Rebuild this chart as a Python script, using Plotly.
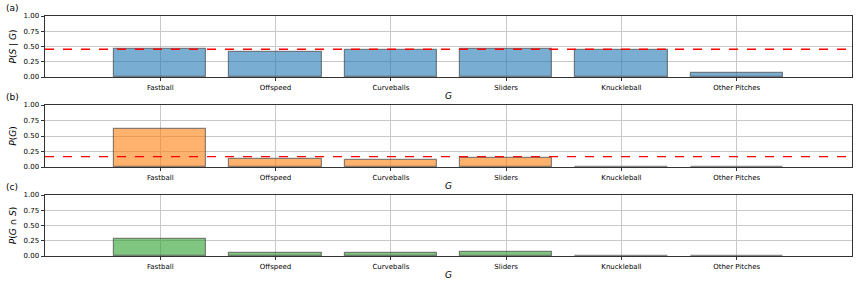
import plotly.graph_objects as go
from plotly.subplots import make_subplots

categories = ["Fastball", "Offspeed", "Curveballs", "Sliders", "Knuckleball", "Other Pitches"]
p_s_given_g = [0.46, 0.415, 0.45, 0.465, 0.445, 0.06]
p_g = [0.608, 0.13, 0.108, 0.145, 0.004, 0.005]
p_g_and_s = [0.28, 0.054, 0.049, 0.067, 0.002, 0.003]
p_s_overall = 0.455
p_g_uniform = 1 / 6
y_ticks = [0, 0.25, 0.5, 0.75, 1.0]
y_titles = ["<i>P</i>(<i>S</i> | <i>G</i>)", "<i>P</i>(<i>G</i>)", "<i>P</i>(<i>G</i> ∩ <i>S</i>)"]
panel_labels = ["(a)", "(b)", "(c)"]

W, H = 857, 285
fig = make_subplots(rows=3, cols=1)

fills = ["rgba(31,119,180,0.6)", "rgba(255,127,14,0.6)", "rgba(44,160,44,0.6)"]
series = [p_s_given_g, p_g, p_g_and_s]
for i, (vals, col) in enumerate(zip(series, fills)):
    fig.add_trace(go.Bar(x=categories, y=vals, width=0.8,
                         marker=dict(color=col, line=dict(color="rgba(60,60,60,0.6)", width=1.2)),
                         showlegend=False, hoverinfo="skip"), row=i + 1, col=1)

# reference lines
for i, val in [(0, p_s_overall), (1, p_g_uniform)]:
    xref = "x" if i == 0 else f"x{i+1}"
    yref = "y" if i == 0 else f"y{i+1}"
    fig.add_shape(type="line", xref=f"{xref} domain", yref=yref, x0=0, x1=1, y0=val, y1=val,
                  line=dict(color="#ff0000", width=1.4, dash="dash"))

pix = [(16, 77), (105, 167), (195, 256)]
xd = [45 / W, 852 / W]
font = dict(family="DejaVu Sans", size=7, color="black")
tfont = dict(family="DejaVu Sans", size=9, color="black")
for i, (top, bot) in enumerate(pix):
    xa = "xaxis" if i == 0 else f"xaxis{i+1}"
    ya = "yaxis" if i == 0 else f"yaxis{i+1}"
    fig.layout[xa].update(domain=xd, range=[-1, 6], type="category", automargin=False,
                          categoryorder="array", categoryarray=categories,
                          showgrid=True, gridcolor="#c8c8c8", gridwidth=0.8,
                          showline=True, linecolor="#333333", linewidth=0.9, mirror=True,
                          ticks="outside", ticklen=3.5, tickcolor="#333333", tickwidth=0.8,
                          tickfont=font,
                          title=dict(text="<i>G</i>", font=tfont, standoff=1))
    fig.layout[ya].update(domain=[1 - bot / H, 1 - top / H], range=[0, 1], automargin=False,
                          tickvals=y_ticks, tickformat=".2f",
                          showgrid=True, gridcolor="#c8c8c8", gridwidth=0.8, zeroline=False,
                          showline=True, linecolor="#333333", linewidth=0.9, mirror=True,
                          ticks="outside", ticklen=3.5, tickcolor="#333333", tickwidth=0.8,
                          tickfont=font,
                          title=dict(text=y_titles[i], font=tfont, standoff=5))
    fig.add_annotation(text=panel_labels[i], xref="paper", yref="paper", x=4 / W, y=1 - (top - 8) / H,
                       xanchor="left", yanchor="middle", showarrow=False, font=tfont)

fig.update_layout(width=W, height=H, margin=dict(l=0, r=0, t=0, b=0),
                  plot_bgcolor="white", paper_bgcolor="white", bargap=0, hovermode=False)
fig.write_html("out.html", config={"displayModeBar": False},
               post_script="document.body.style.margin='0';document.body.style.overflow='hidden';")
